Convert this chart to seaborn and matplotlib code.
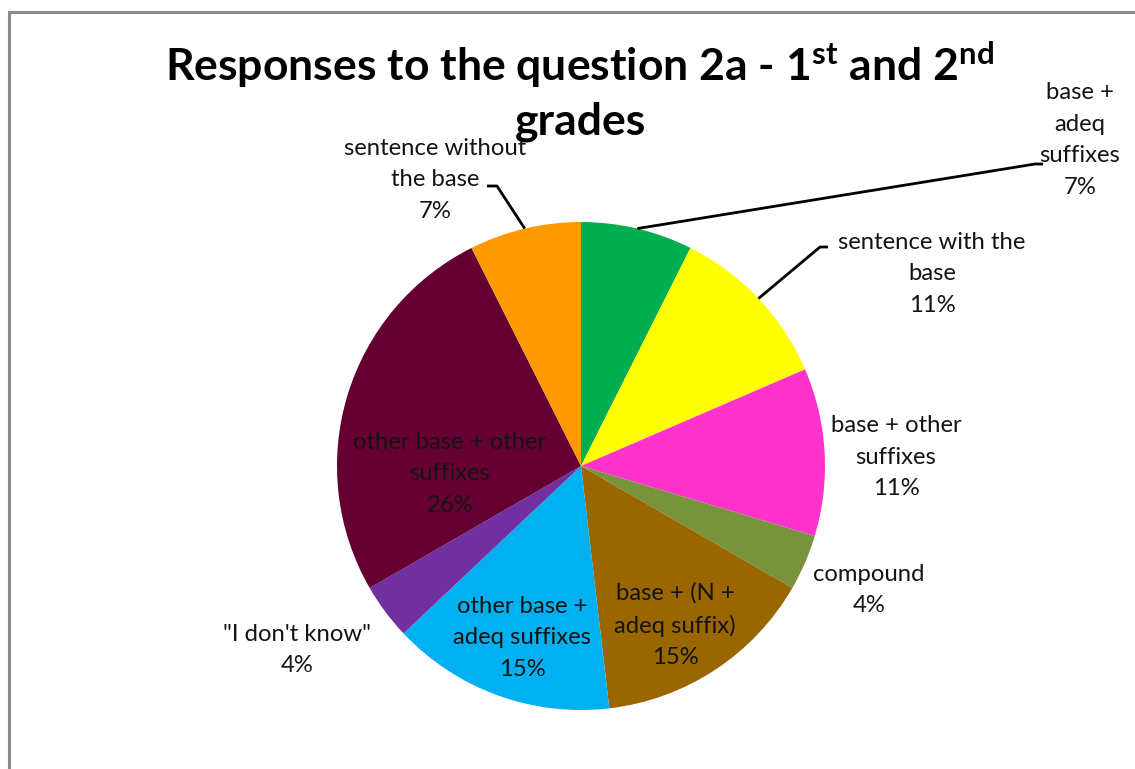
import matplotlib
matplotlib.use("Agg")
import matplotlib.pyplot as plt
import matplotlib.patches as mpatches
import numpy as np
import seaborn as sns

# Response categories, in clockwise order starting from 12 o'clock
categories = [
    "base +\nadeq\nsuffixes",
    "sentence with the\nbase",
    "base + other\nsuffixes",
    "compound",
    "base + (N +\nadeq suffix)",
    "other base +\nadeq suffixes",
    "\"I don't know\"",
    "other base + other\nsuffixes",
    "sentence without\nthe base",
]
# Number of pupils giving each response
counts = [2, 3, 3, 1, 4, 4, 1, 7, 2]
colors = ["#00B050", "#FFFF00", "#FF33CC", "#77933C", "#996600",
          "#00B0F0", "#7030A0", "#660033", "#FF9900"]

sns.set_theme(style="white")
plt.rcParams["font.family"] = ["Lato", "DejaVu Sans"]
plt.rcParams["mathtext.fontset"] = "custom"
plt.rcParams["mathtext.bf"] = "Lato:bold"
plt.rcParams["mathtext.rm"] = "Lato:bold"

W, H = 1135, 769
fig = plt.figure(figsize=(W / 100, H / 100), dpi=100)
fig.patch.set_facecolor("white")
ax = fig.add_axes([0, 0, 1, 1])

cx, cy, r = 581, H - 466, 244
wedges, _ = ax.pie(counts, colors=colors, startangle=90, counterclock=False,
                   center=(cx, cy), radius=r, frame=True,
                   wedgeprops=dict(linewidth=0))
ax.set_xlim(0, W)
ax.set_ylim(0, H)
ax.set_axis_off()

# outer chart frame (runs off the right and bottom edges)
frame = mpatches.Rectangle((9, -20), W + 40, H - 12 + 20, fill=False,
                           edgecolor="#8c8c8c", linewidth=2.2)
ax.add_patch(frame)

total = sum(counts)
pcts = [f"{round(c / total * 100)}%" for c in counts]

# label block centres (pixel layout)
label_pos = [(1080, 140), (932, 274), (896, 457), (869, 590),
             (675, 625), (522, 638), (297, 650), (450, 474), (435, 180)]

txt_color = "#141414"
for lab, pct, (px, py) in zip(categories, pcts, label_pos):
    ax.text(px, H - py, f"{lab}\n{pct}", ha="center", va="center",
            fontsize=17.2, color=txt_color, linespacing=1.62)


def arc_mid(w):
    a = np.deg2rad((w.theta1 + w.theta2) / 2)
    return cx + r * np.cos(a), cy + r * np.sin(a)


# leader lines: (wedge index, elbow point, end point)
leaders = [(0, (1035, 164), (1043, 164)),
           (1, (820, 247), (828, 247)),
           (8, (497, 186), (487, 186))]
for idx, (ex, ey), (tx, ty) in leaders:
    sx, sy = arc_mid(wedges[idx])
    ax.plot([sx, ex, tx], [sy, H - ey, H - ty], color="black", lw=2.0,
            solid_capstyle="butt")

# title with superscript ordinals
ax.text(580, H - 65,
        r"Responses to the question 2a - 1$^{\mathbf{st}}$ and 2$^{\mathbf{nd}}$",
        ha="center", va="center", fontsize=32, fontweight="bold",
        color="black")
ax.text(580, H - 122, "grades", ha="center", va="center", fontsize=32,
        fontweight="bold", color="black")

fig.savefig("out.png", dpi=100, facecolor="white")
